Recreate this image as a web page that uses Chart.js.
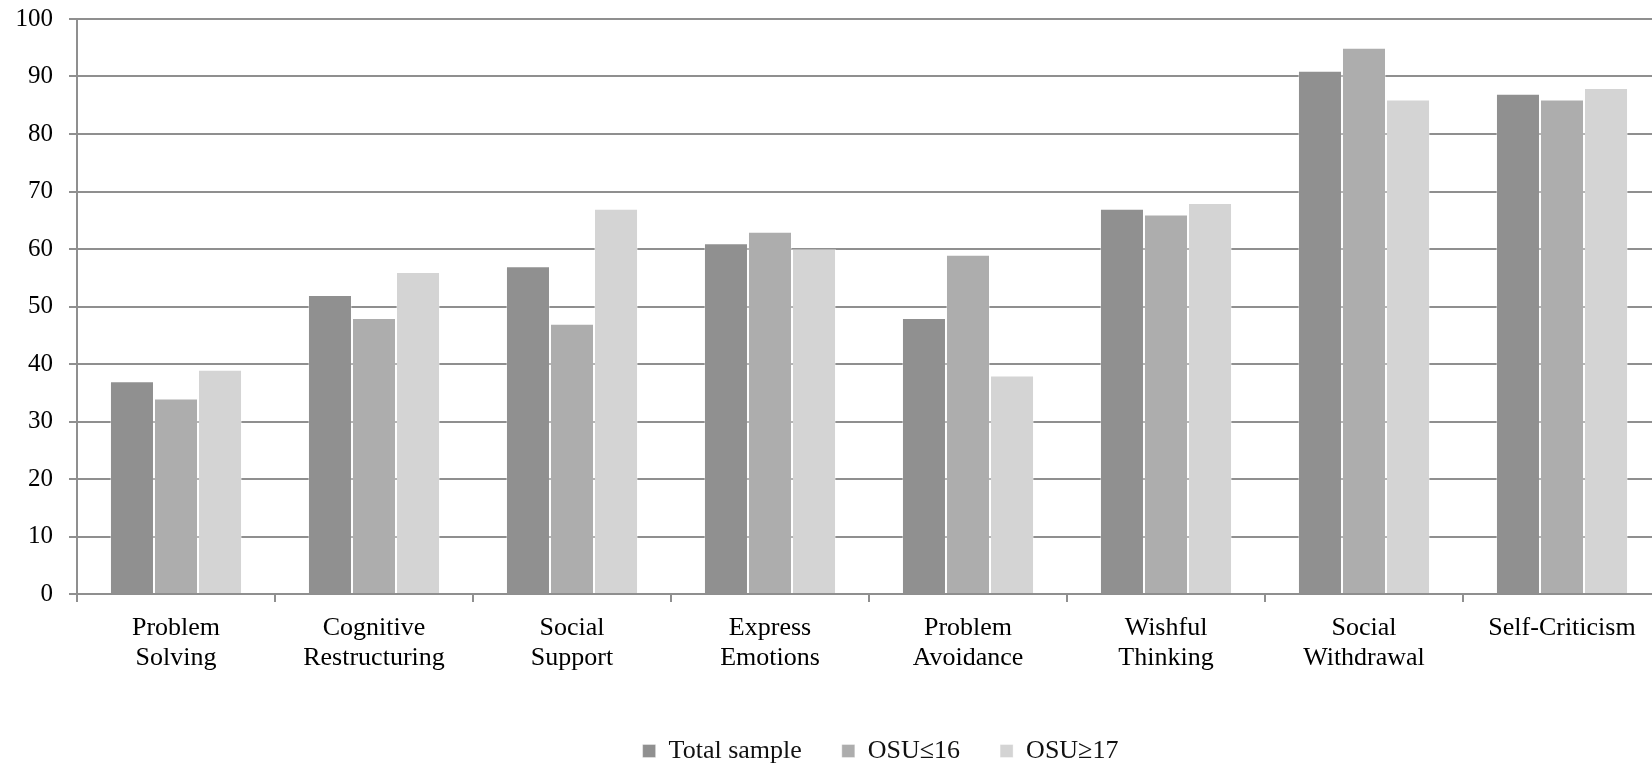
<!DOCTYPE html>
<html>
<head>
<meta charset="utf-8">
<script src="https://cdn.jsdelivr.net/npm/chart.js@4/dist/chart.umd.min.js"></script>
<style>
  html, body { margin: 0; padding: 0; background: #fff; overflow: hidden; }
  #wrap { width: 1652px; height: 766px; overflow: hidden; }
  canvas { display: block; }
</style>
</head>
<body>
<div id="wrap"><canvas id="c" width="1661" height="766"></canvas></div>
<script>
// Coping strategies, percentages by group
const categories = [
  ['Problem', 'Solving'],
  ['Cognitive', 'Restructuring'],
  ['Social', 'Support'],
  ['Express', 'Emotions'],
  ['Problem', 'Avoidance'],
  ['Wishful', 'Thinking'],
  ['Social', 'Withdrawal'],
  'Self-Criticism'
];
const seriesNames = ['Total sample', 'OSU\u226416', 'OSU\u226517'];
const totalSample = [37, 52, 57, 61, 48, 67, 91, 87];
const osuLow = [34, 48, 47, 63, 59, 66, 95, 86];
const osuHigh = [39, 56, 67, 60, 38, 68, 86, 88];
const yTicks = [0, 10, 20, 30, 40, 50, 60, 70, 80, 90, 100];

const colors = ['#909090', '#adadad', '#d4d4d4'];
const gridColor = '#8f8f8f';
const serif = "'Liberation Serif', 'Times New Roman', serif";

// Nudges the legend row after layout
const legendShift = {
  id: 'legendShift',
  afterLayout(chart, args, opts) {
    const lg = chart.legend;
    if (lg) {
      lg.left += opts.dx; lg.right += opts.dx;
      lg.top += opts.dy; lg.bottom += opts.dy;
    }
  }
};

const makeSet = (label, data, i) => ({
  label, data,
  backgroundColor: colors[i],
  borderColor: 'rgba(255,255,255,0.35)',
  borderWidth: 1,
  categoryPercentage: 0.667,
  barPercentage: 1.0
});

new Chart(document.getElementById('c'), {
  type: 'bar',
  data: {
    labels: categories,
    datasets: [
      makeSet(seriesNames[0], totalSample, 0),
      makeSet(seriesNames[1], osuLow, 1),
      makeSet(seriesNames[2], osuHigh, 2)
    ]
  },
  plugins: [legendShift],
  options: {
    responsive: false,
    animation: false,
    layout: { padding: { top: 19, left: 0, right: 0, bottom: 0 } },
    plugins: {
      legendShift: { dx: 50, dy: 8 },
      tooltip: { enabled: false },
      legend: {
        position: 'bottom',
        align: 'center',
        labels: {
          boxWidth: 13,
          boxHeight: 13,
          padding: 40,
          color: '#111',
          font: { family: serif, size: 26 }
        }
      }
    },
    scales: {
      x: {
        offset: true,
        afterFit: s => { s.height = 96; },
        grid: {
          offset: true,
          drawOnChartArea: false,
          drawTicks: true,
          tickLength: 8,
          color: gridColor,
          lineWidth: 2
        },
        border: { display: true, color: gridColor, width: 2 },
        ticks: {
          color: '#000',
          padding: 12,
          maxRotation: 0,
          autoSkip: false,
          font: { family: serif, size: 26, lineHeight: 1.12 }
        }
      },
      y: {
        min: yTicks[0],
        max: yTicks[yTicks.length - 1],
        afterFit: s => { s.width = 77; s.paddingTop = 0; s.paddingBottom = 0; },
        afterBuildTicks: s => { s.ticks = yTicks.map(v => ({ value: v })); },
        grid: {
          color: gridColor,
          lineWidth: 2,
          drawTicks: true,
          tickLength: 8
        },
        border: { display: true, color: gridColor, width: 2 },
        ticks: {
          color: '#000',
          padding: 16,
          font: { family: serif, size: 25 }
        }
      }
    }
  }
});
</script>
</body>
</html>
